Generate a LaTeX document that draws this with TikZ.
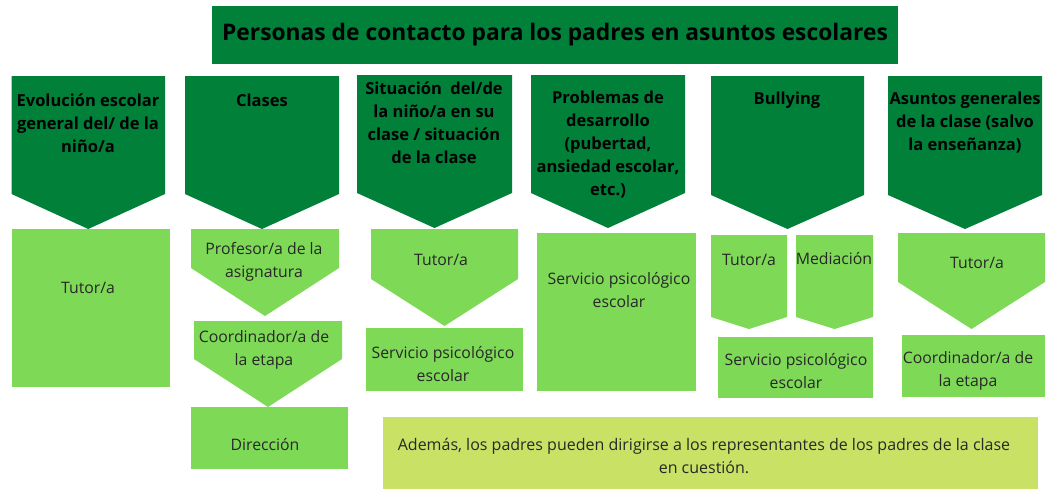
\documentclass[tikz,border=0pt]{standalone}
\usepackage{fontspec}
\setmainfont{Open Sans}
\usepackage{tikz}
\usetikzlibrary{positioning}

\definecolor{darkgreen}{RGB}{0,128,56}
\definecolor{lightgreen}{RGB}{126,217,87}
\definecolor{notegreen}{RGB}{201,226,101}
\definecolor{textgray}{RGB}{40,40,40}

% pentagon pointing down: style, x1, x2, top, shoulder, tip
\newcommand{\chevron}[6]{%
  \fill[#1] (#2,#4) -- (#3,#4) -- (#3,#5) -- ({(#2+#3)/2},#6) -- (#2,#5) -- cycle;}

\begin{document}
\begin{tikzpicture}[
    x=1pt, y=-1pt,
    head/.style={fill=darkgreen},
    item/.style={fill=lightgreen},
    hd/.style={font=\fontsize{16.5}{23}\selectfont\bfseries, text=black, align=center},
    txt/.style={font=\fontsize{15.8}{22.5}\selectfont, text=textgray, align=center},
]
\useasboundingbox (0,0) rectangle (1047,490);

% === Title ===
\fill[head] (212,6) rectangle (898,64);
\node[font=\fontsize{22.8}{27}\selectfont\bfseries] at (555,35) (title) {Personas de contacto para los padres en asuntos escolares};

% === Topics (dark chevrons) ===
\chevron{head}{11.5}{165}{76}{194}{229}
\chevron{head}{185}{339}{76}{194}{229}
\chevron{head}{357}{512}{75}{193}{228}
\chevron{head}{531}{685}{75}{193}{228}
\chevron{head}{711}{864}{76}{195}{229}
\chevron{head}{888}{1042}{76}{195}{229}

\node[hd] at (88,123) (h-evol) {Evolución escolar\\general del/ de la\\niño/a};
\node[hd] at (262,100) (h-clases) {Clases};
\node[hd] at (434,122.5) (h-sit) {Situación\ \ del/de\\la niño/a en su\\clase / situación\\de la clase};
\node[hd] at (608,145) (h-prob) {Problemas de\\desarrollo\\(pubertad,\\ansiedad escolar,\\etc.)};
\node[hd] at (787,100) (h-bull) {Bullying};
\node[hd] at (965,123) (h-gen) {Asuntos generales\\de la clase (salvo\\la enseñanza)};

% === Contacts (light boxes) ===
% column 1
\fill[item] (11.5,229) rectangle (170,387);
\node[txt] at (88,288) (c1-tutor) {Tutor/a};

% column 2
\chevron{item}{191}{339}{229}{268}{316}
\chevron{item}{194}{342}{321}{359}{407}
\fill[item] (191,407) rectangle (348,469);
\node[txt] at (264,262) (c2-prof) {Profesor/a de la\\asignatura};
\node[txt] at (264,350) (c2-coord) {Coordinador/a de\\la etapa};
\node[txt] at (265,445) (c2-dir) {Dirección};

% column 3
\chevron{item}{371}{518}{229}{279}{326}
\fill[item] (366,328) rectangle (523,391);
\node[txt] at (441,260) (c3-tutor) {Tutor/a};
\node[txt] at (443,364) (c3-psico) {Servicio psicológico\\escolar};

% column 4
\fill[item] (537,233) rectangle (696,391);
\node[txt] at (619,290) (c4-psico) {Servicio psicológico\\escolar};

% column 5
\chevron{item}{711}{787}{235}{317}{329}
\chevron{item}{796}{873}{235}{317}{329}
\fill[item] (718,337) rectangle (873,398);
\node[txt] at (749,260) (c5-tutor) {Tutor/a};
\node[txt] at (834,259) (c5-med) {Mediación};
\node[txt] at (796,371) (c5-psico) {Servicio psicológico\\escolar};

% column 6
\chevron{item}{898}{1045}{233}{282}{329}
\fill[item] (902,335) rectangle (1045,397);
\node[txt] at (977,263) (c6-tutor) {Tutor/a};
\node[txt] at (968,371) (c6-coord) {Coordinador/a de\\la etapa};

% === Note ===
\fill[notegreen] (383,417) rectangle (1038,489);
\node[txt, font=\fontsize{16}{23}\selectfont] at (704,456) (note) {Además, los padres pueden dirigirse a los representantes de los padres de la clase\\en cuestión.};

\end{tikzpicture}
\end{document}
